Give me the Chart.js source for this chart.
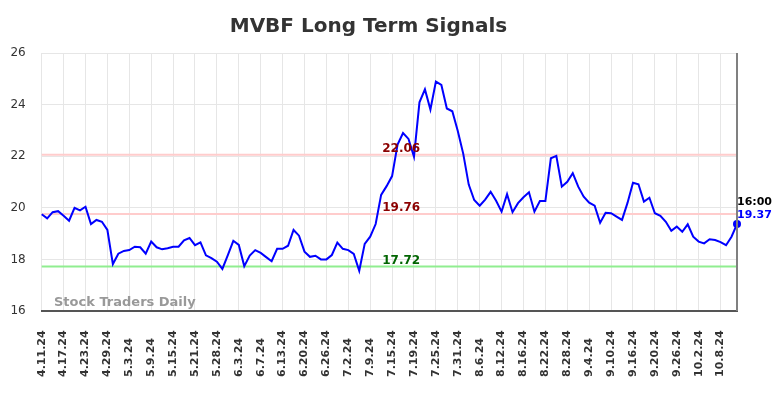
<!DOCTYPE html>
<html>
<head>
<meta charset="utf-8">
<script src="https://cdn.jsdelivr.net/npm/chart.js@4/dist/chart.umd.min.js"></script>
<style>
  html, body { margin: 0; padding: 0; background: #fff; }
  canvas { display: block; }
</style>
</head>
<body>
<canvas id="signalChart" width="784" height="398"></canvas>
<script>
// trading days shown on the x axis (every 4th one gets a label)
var dates = [
  '4.11.24','4.12.24','4.15.24','4.16.24','4.17.24','4.18.24','4.19.24','4.22.24','4.23.24','4.24.24',
  '4.25.24','4.26.24','4.29.24','4.30.24','5.1.24','5.2.24','5.3.24','5.6.24','5.7.24','5.8.24',
  '5.9.24','5.10.24','5.13.24','5.14.24','5.15.24','5.16.24','5.17.24','5.20.24','5.21.24','5.22.24',
  '5.23.24','5.24.24','5.28.24','5.29.24','5.30.24','5.31.24','6.3.24','6.4.24','6.5.24','6.6.24',
  '6.7.24','6.10.24','6.11.24','6.12.24','6.13.24','6.14.24','6.17.24','6.18.24','6.20.24','6.21.24',
  '6.24.24','6.25.24','6.26.24','6.27.24','6.28.24','7.1.24','7.2.24','7.3.24','7.5.24','7.8.24',
  '7.9.24','7.10.24','7.11.24','7.12.24','7.15.24','7.16.24','7.17.24','7.18.24','7.19.24','7.22.24',
  '7.23.24','7.24.24','7.25.24','7.26.24','7.29.24','7.30.24','7.31.24','8.1.24','8.2.24','8.5.24',
  '8.6.24','8.7.24','8.8.24','8.9.24','8.12.24','8.13.24','8.14.24','8.15.24','8.16.24','8.19.24',
  '8.20.24','8.21.24','8.22.24','8.23.24','8.26.24','8.27.24','8.28.24','8.29.24','8.30.24','9.3.24',
  '9.4.24','9.5.24','9.6.24','9.9.24','9.10.24','9.11.24','9.12.24','9.13.24','9.16.24','9.17.24',
  '9.18.24','9.19.24','9.20.24','9.23.24','9.24.24','9.25.24','9.26.24','9.27.24','9.30.24','10.1.24',
  '10.2.24','10.3.24','10.4.24','10.7.24','10.8.24','10.9.24','10.10.24','10.11.24'
];

// closing prices
var prices = [
  19.75, 19.59, 19.83, 19.87, 19.69, 19.50, 20.00, 19.90, 20.04, 19.37,
  19.53, 19.46, 19.14, 17.82, 18.22, 18.33, 18.36, 18.49, 18.47, 18.22,
  18.69, 18.47, 18.39, 18.43, 18.49, 18.49, 18.74, 18.83, 18.55, 18.66,
  18.16, 18.05, 17.91, 17.63, 18.17, 18.72, 18.56, 17.74, 18.15, 18.36,
  18.25, 18.09, 17.93, 18.41, 18.41, 18.53, 19.14, 18.92, 18.30, 18.10,
  18.14, 18.00, 18.00, 18.17, 18.65, 18.41, 18.36, 18.21, 17.56, 18.60,
  18.88, 19.37, 20.50, 20.84, 21.23, 22.45, 22.90, 22.67, 21.98, 24.09,
  24.59, 23.81, 24.89, 24.76, 23.85, 23.74, 22.98, 22.09, 20.90, 20.30,
  20.08, 20.32, 20.62, 20.27, 19.85, 20.53, 19.83, 20.18, 20.41, 20.60,
  19.85, 20.26, 20.26, 21.92, 22.01, 20.82, 21.01, 21.34, 20.82, 20.43,
  20.20, 20.08, 19.42, 19.81, 19.79, 19.66, 19.53, 20.19, 20.97, 20.91,
  20.24, 20.39, 19.79, 19.69, 19.46, 19.11, 19.27, 19.07, 19.36, 18.88,
  18.69, 18.62, 18.78, 18.75, 18.67, 18.55, 18.88, 19.37
];

// signal levels
var levelValues = [22.06, 19.76, 17.72];
var levelLineColors = ['#ffcccc', '#ffcccc', '#90ee90'];
var levelTextColors = ['#8b0000', '#8b0000', '#006400'];

var yTicks = [16, 18, 20, 22, 24, 26];
var lastTime = '16:00';

var FONT = "'DejaVu Sans', sans-serif";
var lastIdx = prices.length - 1;

var overlay = {
    id: 'overlay',
    beforeDatasetsDraw: function(chart) {
        var ctx = chart.ctx, area = chart.chartArea, y = chart.scales.y;
        ctx.save();
        // level lines
        levelValues.forEach(function(v, i) {
            var py = y.getPixelForValue(v);
            ctx.strokeStyle = levelLineColors[i];
            ctx.lineWidth = 2;
            ctx.beginPath();
            ctx.moveTo(area.left, py);
            ctx.lineTo(area.right, py);
            ctx.stroke();
        });
        // watermark
        ctx.font = 'bold 13px ' + FONT;
        ctx.fillStyle = '#999999';
        ctx.textAlign = 'left';
        ctx.textBaseline = 'alphabetic';
        ctx.fillText('Stock Traders Daily', 54, 306);
        ctx.restore();
    },
    afterDatasetsDraw: function(chart) {
        var ctx = chart.ctx, area = chart.chartArea, x = chart.scales.x, y = chart.scales.y;
        ctx.save();
        // level labels
        ctx.font = 'bold 12px ' + FONT;
        ctx.textAlign = 'center';
        ctx.textBaseline = 'alphabetic';
        var lx = area.left + area.width * 0.517;
        levelValues.forEach(function(v, i) {
            ctx.fillStyle = levelTextColors[i];
            ctx.fillText(v.toFixed(2), lx, y.getPixelForValue(v) - 3);
        });
        // right border
        ctx.strokeStyle = '#808080';
        ctx.lineWidth = 2;
        ctx.beginPath();
        ctx.moveTo(area.right, area.top);
        ctx.lineTo(area.right, area.bottom);
        ctx.stroke();
        // last value labels
        var ly = y.getPixelForValue(prices[lastIdx]);
        ctx.font = 'bold 11px ' + FONT;
        ctx.textAlign = 'left';
        ctx.fillStyle = '#000000';
        ctx.fillText(lastTime, area.right, ly - 19);
        ctx.fillStyle = '#0000ff';
        ctx.fillText(prices[lastIdx].toFixed(2), area.right, ly - 6);
        // x labels, rotated, bottom aligned
        ctx.font = 'bold 11px ' + FONT;
        ctx.fillStyle = '#333333';
        ctx.textBaseline = 'middle';
        dates.forEach(function(d, i) {
            if (i % 4 !== 0) return;
            ctx.save();
            ctx.translate(x.getPixelForValue(i), 377);
            ctx.rotate(-Math.PI / 2);
            ctx.fillText(d, 0, 0);
            ctx.restore();
        });
        ctx.restore();
    }
};

var ctxSig = document.getElementById('signalChart').getContext('2d');
var signalChart = new Chart(ctxSig, {
    type: 'line',
    data: {
        labels: dates,
        datasets: [{
            data: prices,
            borderColor: '#0000ff',
            backgroundColor: '#0000ff',
            borderWidth: 2,
            tension: 0,
            clip: false,
            pointRadius: function(c) { return c.dataIndex === lastIdx ? 4 : 0; },
            pointHoverRadius: 0,
            pointBackgroundColor: '#0000ff',
            pointBorderWidth: 0
        }]
    },
    options: {
        responsive: false,
        animation: false,
        events: [],
        layout: { padding: { left: 0, right: 47, top: 0, bottom: 0 } },
        plugins: {
            legend: { display: false },
            tooltip: { enabled: false },
            title: {
                display: true,
                text: 'MVBF Long Term Signals',
                color: '#333333',
                font: { family: FONT, size: 20, weight: 'bold' },
                padding: { top: 15, bottom: 14 }
            }
        },
        scales: {
            x: {
                grid: {
                    color: function(c) { return c.index % 4 === 0 ? '#e6e6e6' : 'rgba(0,0,0,0)'; },
                    drawTicks: false
                },
                border: { color: '#555555', width: 2 },
                ticks: { display: false, autoSkip: false },
                afterFit: function(s) { s.height = 87; }
            },
            y: {
                min: 16,
                max: 26,
                grid: { color: '#e6e6e6', drawTicks: false },
                border: { display: false },
                afterBuildTicks: function(s) { s.ticks = yTicks.map(function(v) { return { value: v }; }); },
                ticks: {
                    color: '#333333',
                    padding: 16,
                    font: { family: FONT, size: 12 }
                },
                afterFit: function(s) { s.width = 41.7; }
            }
        }
    },
    plugins: [overlay]
});
</script>
</body>
</html>
